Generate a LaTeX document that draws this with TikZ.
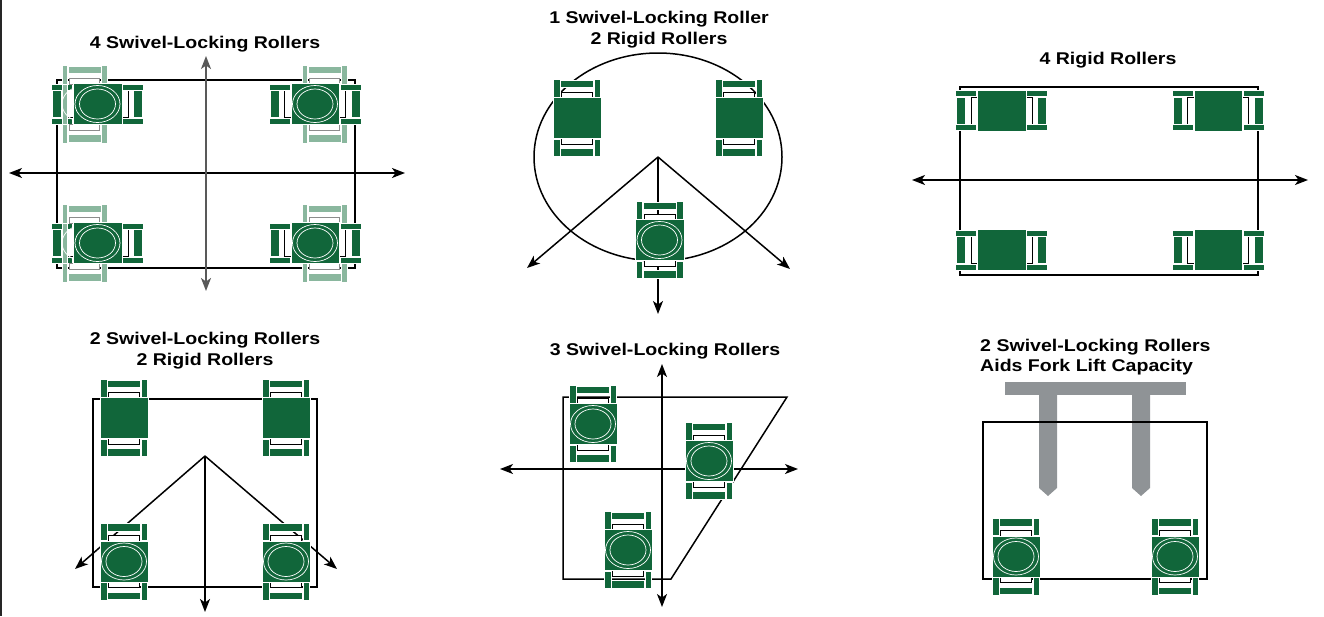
\documentclass[tikz,border=0pt]{standalone}
\usepackage{fontspec}
\setmainfont[FakeStretch=1.15]{Liberation Sans}
\usetikzlibrary{arrows.meta}
\definecolor{rollergreen}{HTML}{11663A}
\definecolor{ghostgreen}{HTML}{8AB79E}
\definecolor{forkgray}{HTML}{8F9396}
\tikzset{
  frame/.style={draw=black,line width=1.5pt},
  axis/.style={draw=black,line width=1.5pt,{Stealth[length=13pt,width=10pt,inset=3.5pt]}-{Stealth[length=13pt,width=10pt,inset=3.5pt]}},
  ray/.style={draw=black,line width=1.5pt,-{Stealth[length=13pt,width=10pt,inset=3.5pt]}},
  caption/.style={font=\bfseries\fontsize{17}{20.8}\selectfont,align=center,inner sep=0pt},
  part/.style={fill=rollergreen,draw=white,line width=.3pt},
  ghost/.style={fill=ghostgreen,draw=white,line width=.3pt},
  bracket/.style={fill=white,draw=black,line width=.7pt},
  % wheels above and below the plate
  pics/wheelsup/.style={code={
    \foreach \s in {1,-1} {
      \begin{scope}[yscale=\s]
        \path[bracket] (-15.5,-26) rectangle (15.5,-20);
        \path[part] (-16.5,-38) rectangle (16.5,-30.5);
        \path[part] (-23.5,-38.5) rectangle (-17,-21);
        \path[part] (17,-38.5) rectangle (23.5,-21);
      \end{scope}
    }
  }},
  % wheels left and right of the plate
  pics/wheelsside/.style={code={
    \foreach \s in {1,-1} {
      \begin{scope}[xscale=\s]
        \path[bracket] (24,-13.5) rectangle (30.5,13.5);
        \path[part] (36,-13.5) rectangle (45,13.5);
        \path[part] (25,-20) rectangle (46,-14);
        \path[part] (25,14) rectangle (46,20);
      \end{scope}
    }
  }},
  % earlier position of a turned roller, shown pale
  pics/wheelsghost/.style={code={
    \foreach \s in {1,-1} {
      \begin{scope}[yscale=\s]
        \path[fill=white,draw=black!45,line width=.6pt] (-15,-26) rectangle (15,-20);
        \path[ghost] (-16,-38) rectangle (17,-30.5);
        \path[ghost] (-22,-39) rectangle (-16.5,-20);
        \path[ghost] (17.5,-39) rectangle (23,-20);
      \end{scope}
    }
  }},
  pics/rigidplate/.style={code={
    \path[part] (-24.2,-20.5) rectangle (24.2,20.5);
  }},
  pics/swivelplate/.style={code={
    \path[part] (-24.2,-20.5) rectangle (24.2,20.5);
    \draw[white,line width=.7pt] (0,0) ellipse (22.5 and 18.5);
    \draw[white,line width=.7pt] (0,0) ellipse (18 and 15);
  }},
  pics/rigidup/.style={code={
    \pic {wheelsup}; \pic {rigidplate};
  }},
  pics/rigidside/.style={code={
    \pic {wheelsside}; \pic {rigidplate};
  }},
  pics/swivelup/.style={code={
    \pic {wheelsup}; \pic {swivelplate};
  }},
  pics/swivelleft/.style={code={
    \pic {wheelsside};
    \pic at (-13.5,0) {wheelsghost};
    \path[ghost] (-35.5,-20) rectangle (-30,20);
    \draw[white,line width=.7pt] (-13.5,0) ellipse (22 and 18);
    \pic {swivelplate};
  }},
  pics/swivelright/.style={code={
    \pic {wheelsside};
    \pic at (9,0) {wheelsghost};
    \pic {swivelplate};
  }}
}
\begin{document}
\begin{tikzpicture}[x=1pt,y=-1pt]
  \useasboundingbox (0,0) rectangle (1324,616);
  \fill[black!85] (0,0) rectangle (2,616);

  % top left
  \node[caption] (titleA) at (205,44) {4 Swivel-Locking Rollers};
  \draw[frame] (57,80) rectangle (355,268);
  \coordinate (aW) at (9,173); \coordinate (aE) at (405,173);
  \coordinate (aN) at (206,56); \coordinate (aS) at (206,291);
  \draw[axis] (aW) -- (aE);
  \draw[axis,draw=black!65,black!65] (aN) -- (aS);
  \pic at (97.5,104) {swivelleft};
  \pic at (315,104) {swivelright};
  \pic at (97.5,243) {swivelleft};
  \pic at (315,243) {swivelright};

  % top middle
  \node[caption] (titleB) at (659,30) {1 Swivel-Locking Roller\\2 Rigid Rollers};
  \draw[frame] (658,157) ellipse (124 and 104);
  \coordinate (bApex) at (658,157);
  \coordinate (bSW) at (527,268); \coordinate (bSE) at (790,269); \coordinate (bS) at (658,314);
  \draw[ray] (bApex) -- (bSW);
  \draw[ray] (bApex) -- (bSE);
  \draw[ray] (bApex) -- (bS);
  \pic at (577,118) {rigidup};
  \pic at (739,118) {rigidup};
  \pic at (659.5,240) {swivelup};

  % top right
  \node[caption] (titleC) at (1108,60) {4 Rigid Rollers};
  \draw[frame] (960,87) rectangle (1258,275);
  \coordinate (cW) at (912,180); \coordinate (cE) at (1308,180);
  \draw[axis] (cW) -- (cE);
  \pic at (1001.5,110.5) {rigidside};
  \pic at (1218,110.5) {rigidside};
  \pic at (1001.5,250) {rigidside};
  \pic at (1218,250) {rigidside};

  % bottom left
  \node[caption] (titleD) at (205,351) {2 Swivel-Locking Rollers\\2 Rigid Rollers};
  \draw[frame] (93,399) rectangle (317,587);
  \coordinate (dApex) at (205,456);
  \coordinate (dSW) at (75,569); \coordinate (dSE) at (337,569); \coordinate (dS) at (205,612);
  \draw[ray] (dApex) -- (dSW);
  \draw[ray] (dApex) -- (dSE);
  \draw[ray] (dApex) -- (dS);
  \pic at (124,418) {rigidup};
  \pic at (286,418) {rigidup};
  \pic at (124,561.5) {swivelup};
  \pic at (286,561.5) {swivelup};

  % bottom middle
  \node[caption] (titleE) at (665,351) {3 Swivel-Locking Rollers};
  \draw[frame] (563,397) -- (787,397) -- (671,579) -- (563,579) -- cycle;
  \coordinate (eW) at (500,469); \coordinate (eE) at (798,469);
  \coordinate (eN) at (662,364); \coordinate (eS) at (662,607);
  \draw[axis] (eW) -- (eE);
  \draw[axis] (eN) -- (eS);
  \pic at (593,424) {swivelup};
  \pic at (709,461) {swivelup};
  \pic at (628,550) {swivelup};

  % bottom right
  \node[caption,align=left,anchor=west] (titleF) at (980,357) {2 Swivel-Locking Rollers\\Aids Fork Lift Capacity};
  \fill[forkgray] (1005,382) rectangle (1186,395);
  \foreach \x in {1039,1132}
    \fill[forkgray] (\x,395) -- (\x+18,395) -- (\x+18,488) -- (\x+9,496) -- (\x,488) -- cycle;
  \draw[frame] (983,422) rectangle (1207,579);
  \pic at (1016,556.5) {swivelup};
  \pic at (1175,556.5) {swivelup};
\end{tikzpicture}
\end{document}
